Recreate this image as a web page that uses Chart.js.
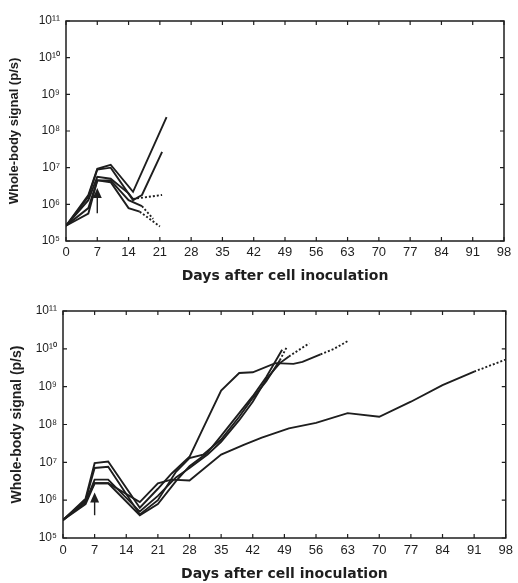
<!DOCTYPE html>
<html>
<head>
<meta charset="utf-8">
<script src="https://cdn.jsdelivr.net/npm/chart.js@4.4.1/dist/chart.umd.min.js"></script>
<style>
  html, body { margin: 0; padding: 0; background: #fff; }
  #wrap { position: relative; width: 518px; height: 583px; }
  canvas { position: absolute; left: 0; }
</style>
</head>
<body>
<div id="wrap">
  <canvas id="early" width="518" height="290" style="top:0"></canvas>
  <canvas id="late" width="518" height="293" style="top:290px"></canvas>
</div>
<script>
// tick labels
var xTicks = [0, 7, 14, 21, 28, 35, 42, 49, 56, 63, 70, 77, 84, 91, 98];
var yTicks = [1e5, 1e6, 1e7, 1e8, 1e9, 1e10, 1e11];

// top panel: days and whole-body signal (p/s) per mouse
var topDays1 = [0, 5, 7, 10, 15, 22.5];
var topSignal1 = [2.6e5, 1.8e6, 9.3e6, 1.2e7, 2.2e6, 2.4e8];
var topDays2 = [0, 5, 7, 10, 15, 17, 21.5];
var topSignal2 = [2.6e5, 1.6e6, 8.9e6, 1.0e7, 1.3e6, 1.8e6, 2.7e7];
var topDays3 = [0, 5, 7, 10, 14, 15, 21.5];
var topSignal3 = [2.6e5, 1.3e6, 5.6e6, 5.0e6, 2.0e6, 1.4e6, 1.8e6];
var topDays4 = [0, 5, 7, 10, 14, 16.5, 21];
var topSignal4 = [2.6e5, 5.6e5, 4.5e6, 4.0e6, 7.9e5, 6.3e5, 2.5e5];
var topDays5 = [0, 5, 7, 10, 14, 17, 19.5];
var topSignal5 = [2.6e5, 7.9e5, 4.5e6, 4.5e6, 1.3e6, 8.9e5, 4.0e5];
var topDashFrom = [null, null, 5, 5, 5]; // index where the dotted tail starts

// bottom panel
var botDays1 = [0, 5, 7, 10, 17, 21, 24, 28, 35, 40, 44, 50, 56, 63, 70, 77, 84, 91, 98];
var botSignal1 = [3.0e5, 1.0e6, 2.8e6, 2.8e6, 8.9e5, 2.8e6, 3.5e6, 3.3e6, 1.6e7, 2.9e7, 4.5e7, 7.9e7, 1.1e8, 2.0e8, 1.6e8, 4.0e8, 1.1e9, 2.5e9, 5.2e9];
var botDays2 = [0, 5, 7, 10, 17, 21, 24, 28, 31, 35, 39, 42, 47, 51, 53, 57, 60, 63];
var botSignal2 = [3.0e5, 1.1e6, 9.5e6, 1.05e7, 6.3e5, 2.0e6, 5.0e6, 1.4e7, 7.9e7, 7.9e8, 2.3e9, 2.4e9, 4.2e9, 4.0e9, 4.5e9, 7.1e9, 1.0e10, 1.6e10];
var botDays3 = [0, 5, 7, 10, 17, 21, 25, 28, 31, 35, 39, 42, 45, 48, 49.5];
var botSignal3 = [3.0e5, 1.0e6, 7.1e6, 7.6e6, 4.2e5, 1.0e6, 5.6e6, 1.3e7, 1.6e7, 4.0e7, 1.6e8, 5.0e8, 1.4e9, 5.0e9, 1.1e10];
var botDays4 = [0, 5, 7, 10, 17, 21, 25, 28, 32, 35, 39, 42, 45, 48, 50, 54.5];
var botSignal4 = [3.0e5, 8.9e5, 3.5e6, 3.5e6, 5.0e5, 1.3e6, 4.0e6, 7.1e6, 1.6e7, 3.5e7, 1.3e8, 4.0e8, 1.6e9, 4.2e9, 6.3e9, 1.4e10];
var botDays5 = [0, 5, 7, 10, 17, 21, 25, 28, 32, 35, 39, 42, 45, 48.5];
var botSignal5 = [3.0e5, 7.9e5, 2.8e6, 2.8e6, 4.0e5, 7.9e5, 3.2e6, 7.9e6, 1.8e7, 5.0e7, 2.0e8, 5.6e8, 1.8e9, 9.5e9];
var botDashFrom = [17, 15, 13, 14, null];

// treatment arrow (day, from, to)
var topArrow = [7, 5.7e5, 2.8e6];
var botArrow = [7, 4.0e5, 1.6e6];

var INK = '#1e1e1e';
var SUP = { '0': '\u2070', '1': '\u00b9', '2': '\u00b2', '3': '\u00b3', '4': '\u2074',
            '5': '\u2075', '6': '\u2076', '7': '\u2077', '8': '\u2078', '9': '\u2079' };

function powLabel(v) {
  var e = String(Math.round(Math.log10(v)));
  return '10' + e.split('').map(function (c) { return SUP[c]; }).join('');
}

function series(days, signal, dashFrom) {
  return {
    data: days.map(function (d, i) { return { x: d, y: signal[i] }; }),
    borderColor: INK,
    borderWidth: 1.9,
    pointRadius: 0,
    tension: 0,
    fill: false,
    segment: {
      borderDash: function (c) {
        return dashFrom != null && c.p0DataIndex >= dashFrom ? [2, 2] : undefined;
      }
    }
  };
}

// box with inward ticks on all sides, plus the arrow
var framePlugin = {
  id: 'frame',
  afterDatasetsDraw: function (chart, args, opts) {
    var ctx = chart.ctx, a = chart.chartArea;
    var xs = chart.scales.x, ys = chart.scales.y;
    ctx.save();
    ctx.strokeStyle = INK;
    ctx.lineWidth = 1.5;
    ctx.strokeRect(a.left, a.top, a.right - a.left, a.bottom - a.top);
    ctx.lineWidth = 1.2;
    ctx.beginPath();
    xTicks.forEach(function (v) {
      var px = xs.getPixelForValue(v);
      ctx.moveTo(px, a.bottom); ctx.lineTo(px, a.bottom - 4);
      ctx.moveTo(px, a.top); ctx.lineTo(px, a.top + 4);
    });
    yTicks.forEach(function (v) {
      var py = ys.getPixelForValue(v);
      ctx.moveTo(a.left, py); ctx.lineTo(a.left + 4, py);
      ctx.moveTo(a.right, py); ctx.lineTo(a.right - 4, py);
    });
    ctx.stroke();

    var ar = opts.arrow;
    var ax = xs.getPixelForValue(ar[0]);
    var y0 = ys.getPixelForValue(ar[1]);
    var y1 = ys.getPixelForValue(ar[2]);
    ctx.lineWidth = 1.4;
    ctx.beginPath();
    ctx.moveTo(ax, y0); ctx.lineTo(ax, y1 + 8);
    ctx.stroke();
    ctx.fillStyle = INK;
    ctx.beginPath();
    ctx.moveTo(ax, y1);
    ctx.lineTo(ax - 4.5, y1 + 10);
    ctx.lineTo(ax + 4.5, y1 + 10);
    ctx.closePath();
    ctx.fill();
    ctx.restore();
  }
};

function makeChart(id, datasets, arrow, dims) {
  return new Chart(document.getElementById(id), {
    type: 'line',
    data: { datasets: datasets },
    plugins: [framePlugin],
    options: {
      responsive: false,
      animation: false,
      layout: { padding: { left: 0, right: dims.padRight, top: dims.padTop, bottom: 0 } },
      plugins: {
        legend: { display: false },
        tooltip: { enabled: false },
        frame: { arrow: arrow }
      },
      scales: {
        x: {
          type: 'linear',
          min: 0,
          max: 98,
          afterBuildTicks: function (s) { s.ticks = xTicks.map(function (v) { return { value: v }; }); },
          afterFit: function (s) { s.height = dims.xHeight; },
          grid: { display: false, drawTicks: false },
          border: { display: false },
          ticks: { color: INK, padding: dims.xLabelPad, maxRotation: 0, autoSkip: false,
                   font: { family: 'Liberation Sans, Arial, sans-serif', size: 13 } },
          title: {
            display: true,
            text: 'Days after cell inoculation',
            color: INK,
            padding: { top: 0, bottom: dims.xTitlePad },
            font: { family: 'DejaVu Sans, sans-serif', size: 14, weight: 'bold' }
          }
        },
        y: {
          type: 'logarithmic',
          min: 1e5,
          max: 1e11,
          afterBuildTicks: function (s) { s.ticks = yTicks.map(function (v) { return { value: v }; }); },
          afterFit: function (s) { s.width = dims.yWidth; },
          grid: { display: false, drawTicks: false },
          border: { display: false },
          ticks: { color: INK, padding: 6, autoSkip: false, callback: function (v) { return powLabel(v); },
                   font: { family: 'Liberation Sans, Arial, sans-serif', size: 12 } },
          title: {
            display: true,
            text: 'Whole-body signal (p/s)',
            color: INK,
            padding: { top: dims.yTitlePad, bottom: 0 },
            font: { family: 'Liberation Sans, Arial, sans-serif', size: dims.yTitleSize, weight: 'bold' }
          }
        }
      }
    }
  });
}

makeChart('early', [
  series(topDays1, topSignal1, topDashFrom[0]),
  series(topDays2, topSignal2, topDashFrom[1]),
  series(topDays3, topSignal3, topDashFrom[2]),
  series(topDays4, topSignal4, topDashFrom[3]),
  series(topDays5, topSignal5, topDashFrom[4])
], topArrow, { padRight: 14, padTop: 21, xHeight: 49, yWidth: 66, xLabelPad: 4, xTitlePad: 5, yTitlePad: 7, yTitleSize: 13 });

makeChart('late', [
  series(botDays1, botSignal1, botDashFrom[0]),
  series(botDays2, botSignal2, botDashFrom[1]),
  series(botDays3, botSignal3, botDashFrom[2]),
  series(botDays4, botSignal4, botDashFrom[3]),
  series(botDays5, botSignal5, botDashFrom[4])
], botArrow, { padRight: 9, padTop: 21, xHeight: 45, yWidth: 63, xLabelPad: 5, xTitlePad: 0, yTitlePad: 9, yTitleSize: 14 });
</script>
</body>
</html>
